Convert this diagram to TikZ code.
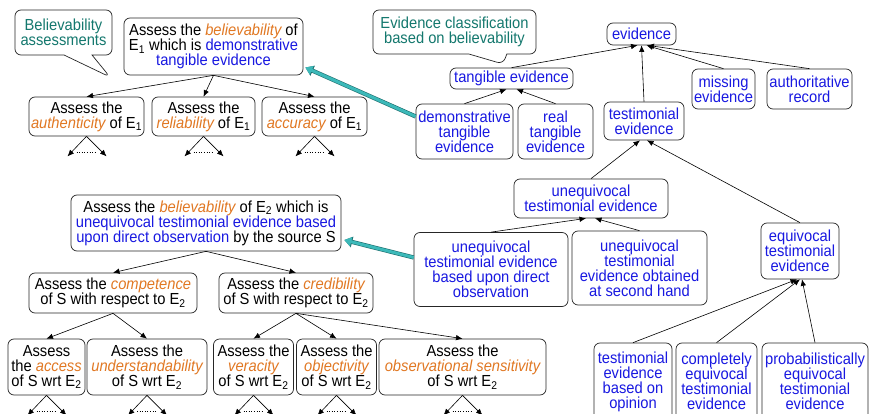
\documentclass[tikz,border=0pt]{standalone}
\usepackage{fontspec}
\setmainfont{Liberation Sans}[FakeStretch=0.92]
\usetikzlibrary{positioning,arrows.meta,shapes.callouts}

\definecolor{evblue}{RGB}{25,25,225}
\definecolor{attrorange}{RGB}{225,120,35}
\definecolor{noteteal}{RGB}{20,120,110}
\definecolor{arrteal}{RGB}{60,185,185}
\definecolor{arrtealdark}{RGB}{30,110,110}

\newcommand{\attr}[1]{\textcolor{attrorange}{\itshape #1}}
\newcommand{\evtext}[1]{\textcolor{evblue}{#1}}
\newcommand{\Esub}[1]{E\textsubscript{#1}}
\setlength{\lineskiplimit}{-10pt}

\tikzset{
  evbox/.style={draw=black!85, line width=.7pt, rounded corners=6pt, fill=white, align=center, inner sep=1pt,
    font=\fontsize{16}{15}\selectfont},
  bluebox/.style={evbox, text=evblue},
  notebox/.style={rectangle callout, evbox, text=noteteal},
  evarrow/.style={line width=.6pt, -{Latex[length=6.5pt,width=5.5pt]}},
  dotline/.style={dotted, line width=.6pt},
  tealarrow/.style={draw=arrteal, line width=3pt, -{Triangle[length=7pt,width=9pt]},
    preaction={draw=arrtealdark, line width=4.2pt, -{Triangle[length=8pt,width=10.5pt]}}}
}

\begin{document}
\begin{tikzpicture}[x=1pt, y=-1pt]
\useasboundingbox (0,0) rectangle (870,414);

% notes
\node[notebox, minimum width=97pt, minimum height=45pt, callout absolute pointer={(110,77)}, callout pointer width=28pt] (note1) at (63.5,32.5) {Believability\\assessments};
\node[notebox, minimum width=163pt, minimum height=44pt, callout absolute pointer={(503,64)}, callout pointer width=38pt] (note2) at (454.5,32) {Evidence classification\\based on believability};

% believability of E1
\node[evbox, minimum width=179pt, minimum height=57pt] (bel1) at (213.5,46.5) {Assess the \attr{believability} of\\\Esub{1} which is \evtext{demonstrative}\\\evtext{tangible evidence}};
\node[evbox, minimum width=115pt, minimum height=39pt] (auth) at (86.5,116.5) {Assess the\\\attr{authenticity} of \Esub{1}};
\node[evbox, minimum width=103pt, minimum height=39pt] (reli) at (203.5,116.5) {Assess the\\\attr{reliability} of \Esub{1}};
\node[evbox, minimum width=105pt, minimum height=39pt] (accu) at (314.5,116.5) {Assess the\\\attr{accuracy} of \Esub{1}};

% believability of E2
\node[evbox, minimum width=270pt, minimum height=56pt] (bel2) at (206,223) {Assess the \attr{believability} of \Esub{2} which is\\\evtext{unequivocal testimonial evidence based}\\\evtext{upon direct observation} by the source S};
\node[evbox, minimum width=168pt, minimum height=40pt] (comp) at (113,293) {Assess the \attr{competence}\\of S with respect to \Esub{2}};
\node[evbox, minimum width=154pt, minimum height=40pt] (cred) at (296,293) {Assess the \attr{credibility}\\of S with respect to \Esub{2}};

\node[evbox, minimum width=77pt, minimum height=56pt] (access) at (46.5,367) {Assess\\the \attr{access}\\of S wrt \Esub{2}};
\node[evbox, minimum width=120pt, minimum height=56pt] (under) at (147,367) {Assess the\\\attr{understandability}\\of S wrt \Esub{2}};
\node[evbox, minimum width=80pt, minimum height=56pt] (vera) at (253.5,367) {Assess the\\\attr{veracity}\\of S wrt \Esub{2}};
\node[evbox, minimum width=80pt, minimum height=56pt] (obje) at (336.5,367) {Assess the\\\attr{objectivity}\\of S wrt \Esub{2}};
\node[evbox, minimum width=167pt, minimum height=56pt] (obse) at (462.5,367) {Assess the\\\attr{observational sensitivity}\\of S wrt \Esub{2}};

% evidence classes
\node[bluebox, minimum width=69pt, minimum height=22pt] (evid) at (641.5,34) {evidence};
\node[bluebox, minimum width=123pt, minimum height=21pt] (tang) at (511.5,78.5) {tangible evidence};
\node[bluebox, minimum width=97pt, minimum height=55pt] (demo) at (464.5,131.5) {demonstrative\\tangible\\evidence};
\node[bluebox, minimum width=75pt, minimum height=55pt] (real) at (555.5,131.5) {real\\tangible\\evidence};
\node[bluebox, minimum width=80pt, minimum height=38pt] (testi) at (644,121) {testimonial\\evidence};
\node[bluebox, minimum width=63pt, minimum height=40pt] (miss) at (723.5,89) {missing\\evidence};
\node[bluebox, minimum width=85pt, minimum height=40pt] (autho) at (809.5,89) {authoritative\\record};

\node[bluebox, minimum width=154pt, minimum height=39pt] (uneq) at (591,198.5) {unequivocal\\testimonial evidence};
\node[bluebox, minimum width=154pt, minimum height=74pt] (uneqd) at (491,269.5) {unequivocal\\testimonial evidence\\based upon direct\\observation};
\node[bluebox, minimum width=135pt, minimum height=74pt] (uneqs) at (639.5,268) {unequivocal\\testimonial\\evidence obtained\\at second hand};
\node[bluebox, minimum width=78pt, minimum height=56pt] (equiv) at (800,251) {equivocal\\testimonial\\evidence};

\node[bluebox, minimum width=78pt, minimum height=77pt] (opin) at (633,381.5) {testimonial\\evidence\\based on\\opinion};
\node[bluebox, minimum width=81pt, minimum height=77pt] (compl) at (716.5,381.5) {completely\\equivocal\\testimonial\\evidence};
\node[bluebox, minimum width=106pt, minimum height=77pt] (prob) at (815,381.5) {probabilistically\\equivocal\\testimonial\\evidence};

% decomposition of E1
\draw[evarrow] (bel1.south) -- (auth.north);
\draw[evarrow] (bel1.south) -- (reli.north);
\draw[evarrow] (bel1.south) -- (accu.north);

% decomposition of E2
\draw[evarrow] (bel2.south) -- (comp.north);
\draw[evarrow] (bel2.south) -- (cred.north);
\draw[evarrow] (comp.south) -- (access.north);
\draw[evarrow] (comp.south) -- (under.north);
\draw[evarrow] (cred.south) -- (vera.north);
\draw[evarrow] (cred.south) -- (obje.north);
\draw[evarrow] (cred.south) -- (obse.north);

% further decomposition
\foreach \n in {auth,reli,accu,access,under,vera,obje,obse} {
  \coordinate[below left=20pt and 19pt of \n.south] (\n-l);
  \coordinate[below right=20pt and 20pt of \n.south] (\n-r);
  \draw[evarrow] (\n.south) -- (\n-l);
  \draw[evarrow] (\n.south) -- (\n-r);
  \draw[dotline] ([xshift=9pt,yshift=4pt]\n-l) -- ([xshift=-10pt,yshift=4pt]\n-r);
}

% classification
\draw[evarrow] (demo.north) -- ([xshift=-5pt]tang.south);
\draw[evarrow] (real.north) -- ([xshift=5pt]tang.south);
\draw[evarrow] (tang.north) -- ([xshift=-4pt]evid.south);
\draw[evarrow] (testi.north) -- (evid.south);
\draw[evarrow] (miss.north) -- ([xshift=5pt]evid.south);
\draw[evarrow] (autho.north) -- ([xshift=6pt]evid.south);
\draw[evarrow] (uneq.north) -- ([xshift=-4pt]testi.south);
\draw[evarrow] (equiv.north) -- ([xshift=3pt]testi.south);
\draw[evarrow] (uneqd.north) -- ([xshift=-5pt]uneq.south);
\draw[evarrow] (uneqs.north) -- ([xshift=4pt]uneq.south);
\draw[evarrow] (opin.north) -- ([xshift=-3pt]equiv.south);
\draw[evarrow] (compl.north) -- (equiv.south);
\draw[evarrow] (prob.north) -- ([xshift=2pt]equiv.south);

% links
\draw[tealarrow] ([yshift=15pt]demo.west) -- ([yshift=-21pt,xshift=2pt]bel1.east);
\draw[tealarrow] ([yshift=12pt]uneqd.west) -- ([yshift=-17pt,xshift=3pt]bel2.east);
\end{tikzpicture}
\end{document}
